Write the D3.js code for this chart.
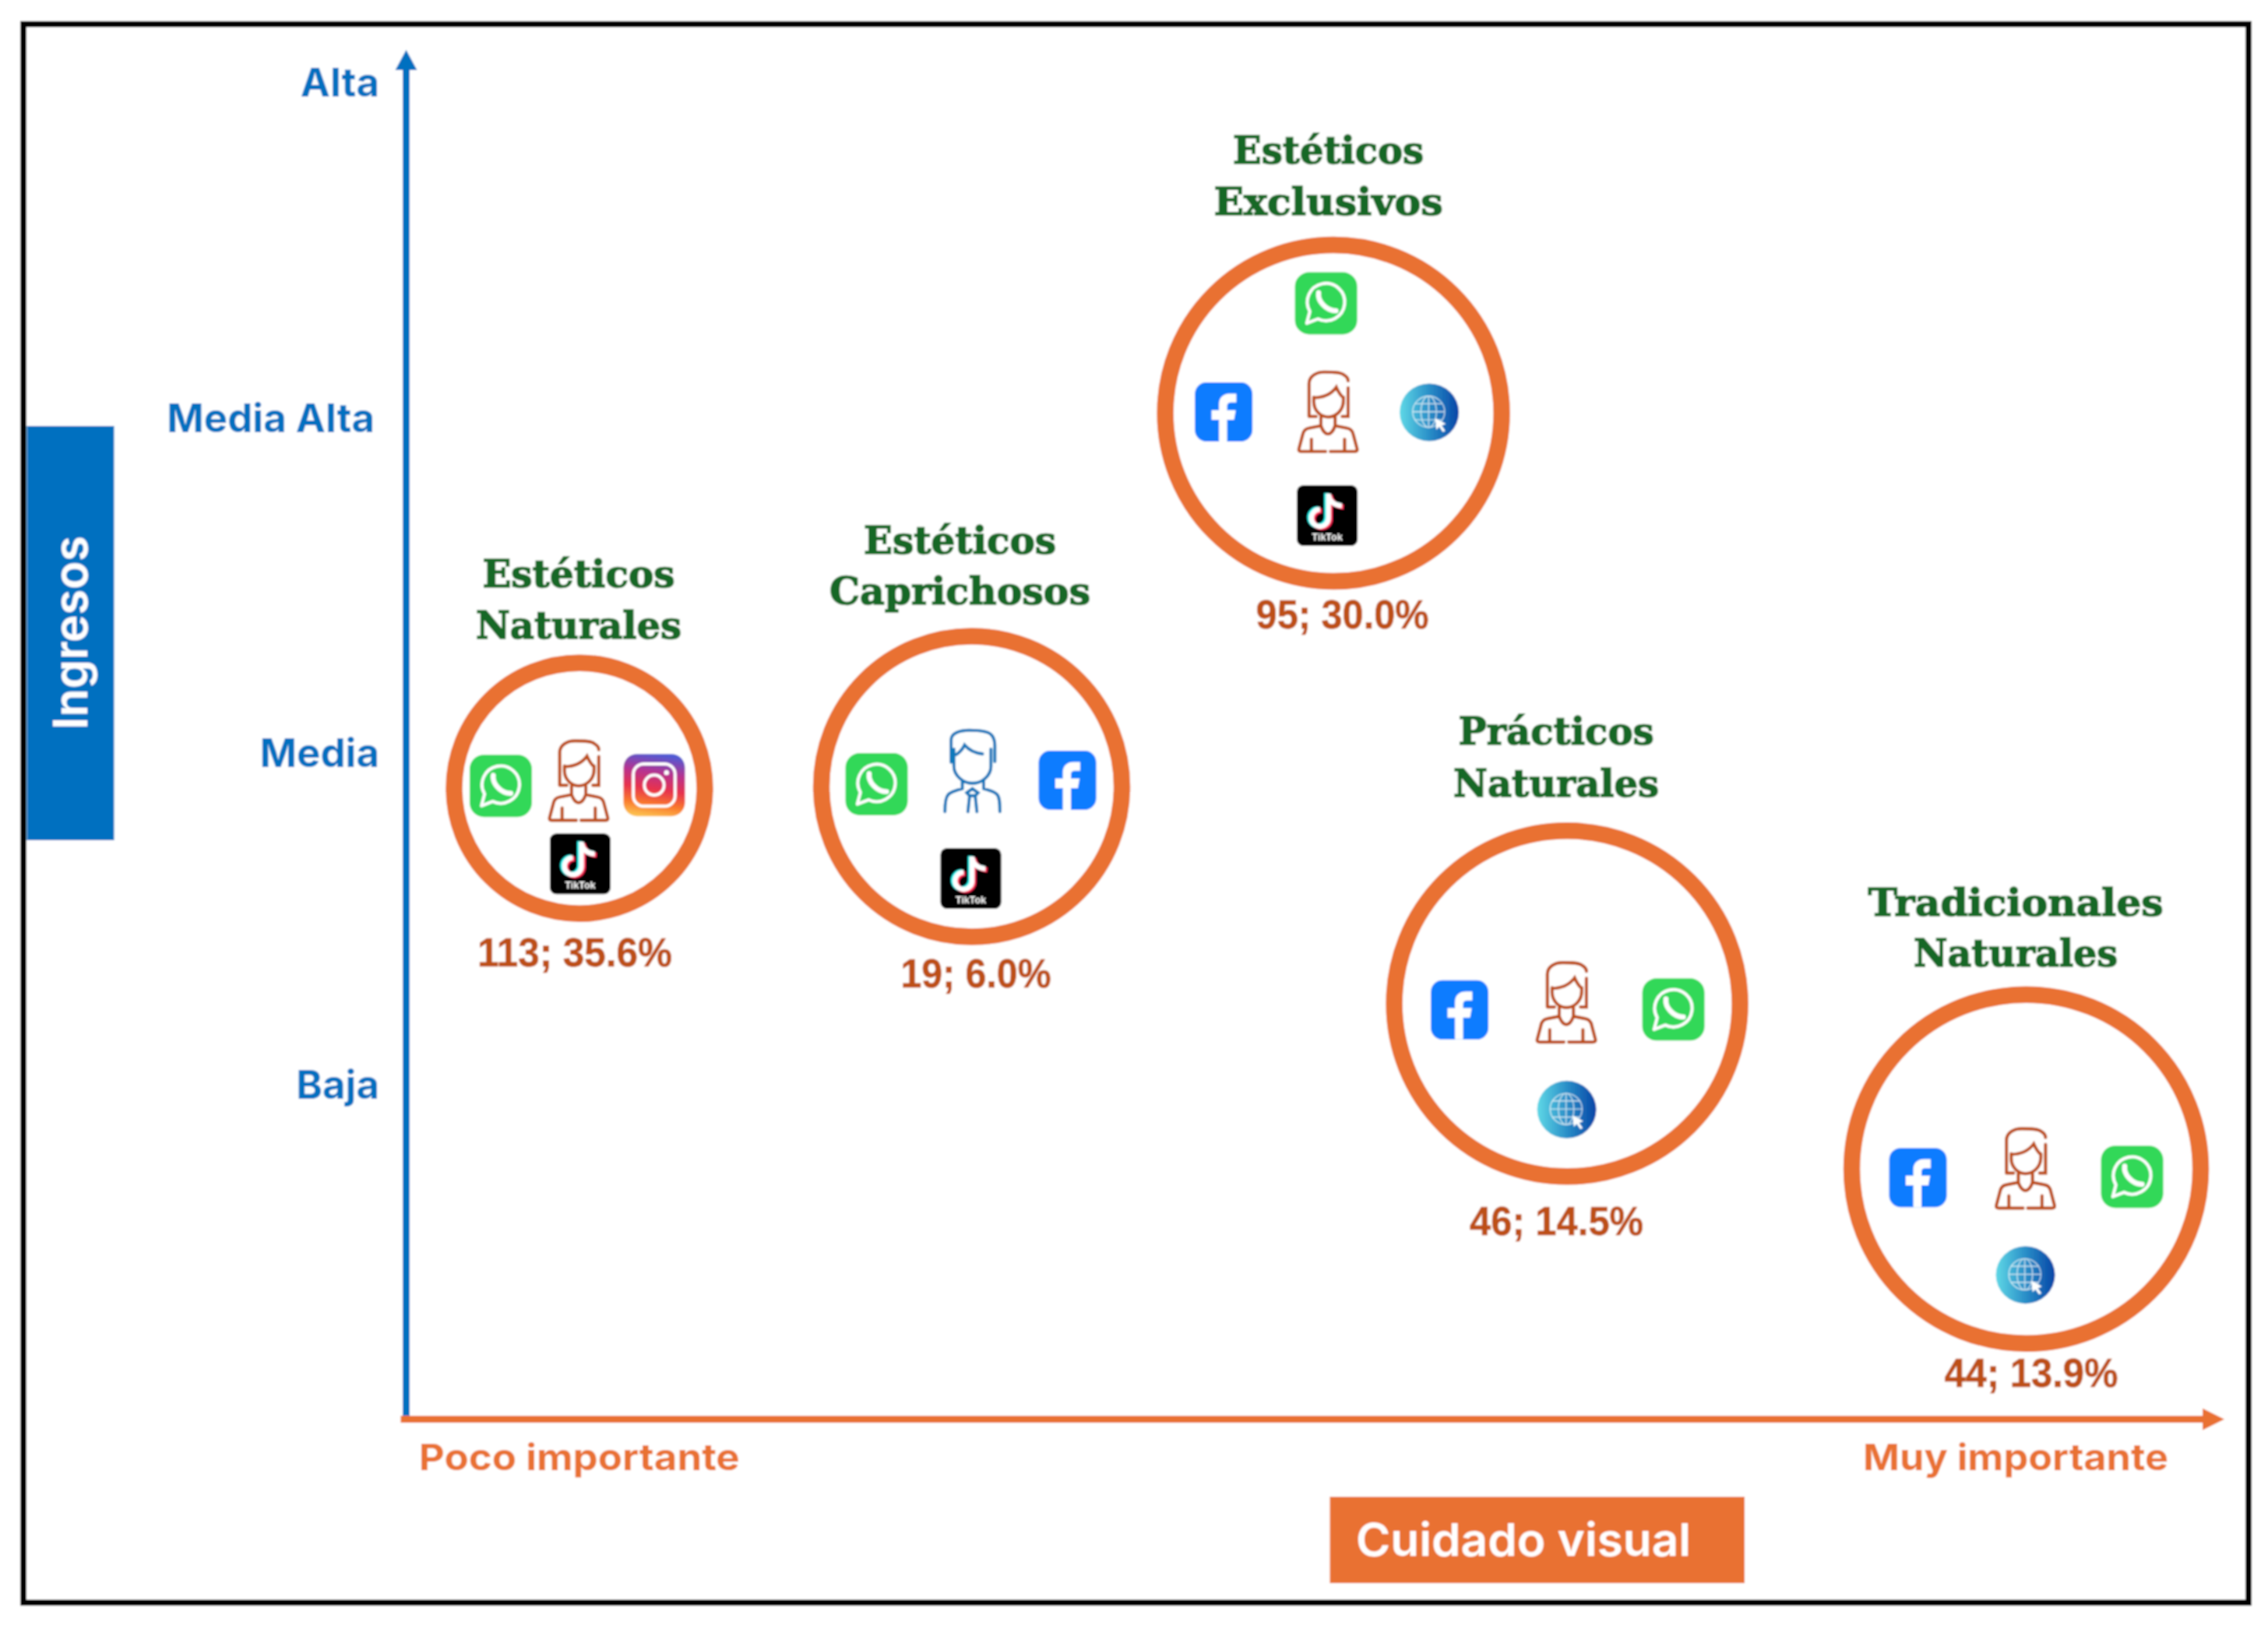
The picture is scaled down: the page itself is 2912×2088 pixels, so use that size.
<!DOCTYPE html>
<html>
<head>
<meta charset="utf-8">
<style>
  html, body { margin: 0; padding: 0; background: #fff; }
  svg { display: block; }
</style>
<script src="https://cdn.jsdelivr.net/npm/d3@7/dist/d3.min.js"></script>
</head>
<body>
<svg id="chart"></svg>
<script>
// values
const segments = [
  ["Estéticos", "Naturales"],
  ["Estéticos", "Caprichosos"],
  ["Estéticos", "Exclusivos"],
  ["Prácticos", "Naturales"],
  ["Tradicionales", "Naturales"]
];
const counts = [113, 19, 95, 46, 44];
const shares = ["35.6%", "6.0%", "30.0%", "14.5%", "13.9%"];
const cuidadoValues = [9.53, 31.1, 51.0, 63.85, 89.1];
const ingresosValues = [0.891, 0.896, 2.012, 0.247, -0.247];
const ingresosLevels = ["Baja", "Media", "Media Alta", "Alta"];
const cuidadoTicks = [9.5, 88.5];
const cuidadoLabels = ["Poco importante", "Muy importante"];
const segmentIcons = [
  ["whatsapp", "woman", "instagram", "tiktok"],
  ["whatsapp", "man", "facebook", "tiktok"],
  ["whatsapp", "facebook", "web", "woman", "tiktok"],
  ["facebook", "woman", "whatsapp", "web"],
  ["facebook", "woman", "whatsapp", "web"]
];

// layout, kept apart from the values
const width = 2912;
const height = 2088;
const blue = "#0070c0";
const orange = "#e97132";
const rust = "#bd4f14";
const green = "#196825";
const sans = "Inter, 'Open Sans', sans-serif";

const plotLeft = 521.5;
const plotRight = 2856;
const plotTop = 64;
const plotBottom = 1822.5;

const bubbleRadius = [161, 193, 216, 222, 224];
const nameOffsets = [[-1, -258, -192], [-15, -299, -234], [-6.5, -320.5, -254.5], [-14, -333, -266], [-13.5, -325, -260]];
const nameWidths = [[247, 264], [247, 335], [245, 294], [251, 264], [379, 262]];
const valueOffsets = [[-6, 229], [5.5, 258], [11.5, 276.5], [-13.5, 297], [6.5, 280]];
const valueWidths = [250, 193, 222, 223, 223];
const iconOffsets = [
  [[-101, -3], [-1, -9], [96, -4], [1, 97]],
  [[-122, -3], [1, -20], [123, -8], [-1, 118]],
  [[-9.5, -141], [-141, -1.5], [123, -1], [-7, -1], [-8, 131.5]],
  [[-138, 8], [-1, -1], [136.5, 7.5], [-0.5, 136]],
  [[-139, 11], [-1, 0], [136, 10], [-1, 136]]
];
const iconSizes = {
  whatsapp: [80, 80],
  facebook: [74, 76],
  tiktok: [78, 78],
  instagram: [79, 80],
  web: [76, 74],
  woman: [76, 105],
  man: [72, 106]
};
const levelLabelNudge = [[0, -4], [0, 0], [-6, 0], [0, -2]];

const svg = d3.select("#chart")
  .attr("width", width)
  .attr("height", height)
  .attr("viewBox", `0 0 ${width} ${height}`);

const x = d3.scaleLinear().domain([0, 100]).range([plotLeft, plotRight]);
const y = d3.scaleLinear().domain([0, 3]).range([1395, 106]);

const defs = svg.append("defs");

function addGradient(id, coords, stops) {
  const g = defs.append("linearGradient")
    .attr("id", id)
    .attr("x1", coords[0]).attr("y1", coords[1])
    .attr("x2", coords[2]).attr("y2", coords[3]);
  stops.forEach(s => g.append("stop").attr("offset", s[0]).attr("stop-color", s[1]));
}

addGradient("instaGrad", [0.55, 0, 0.4, 1], [
  [0, "#4f5bd5"], [0.3, "#b8328f"], [0.55, "#e6304f"], [0.8, "#f9792c"], [1, "#fdc04f"]
]);
addGradient("webGrad", [0, 0.5, 1, 0.5], [
  [0, "#5fd8e6"], [0.5, "#2a8fc8"], [1, "#0645a6"]
]);

svg.append("filter").attr("id", "soft")
  .append("feGaussianBlur").attr("stdDeviation", 0.8);

const root = svg.append("g").attr("filter", "url(#soft)");

root.append("rect")
  .attr("width", width).attr("height", height).attr("fill", "#fff");

root.append("rect")
  .attr("x", 30).attr("y", 31)
  .attr("width", 2857).attr("height", 2027)
  .attr("fill", "none")
  .attr("stroke", "#000")
  .attr("stroke-width", 8);

// side boxes
root.append("rect")
  .attr("x", 34.5).attr("y", 547)
  .attr("width", 112).attr("height", 532)
  .attr("fill", blue);

root.append("text")
  .attr("transform", "translate(112,937) rotate(-90)")
  .attr("font-family", sans)
  .attr("font-size", 60)
  .attr("font-weight", 600)
  .attr("fill", "#fff")
  .attr("textLength", 249)
  .attr("lengthAdjust", "spacingAndGlyphs")
  .text("Ingresos");

root.append("rect")
  .attr("x", 1707.5).attr("y", 1922)
  .attr("width", 532.5).attr("height", 111)
  .attr("fill", orange);

root.append("text")
  .attr("x", 1741).attr("y", 1998)
  .attr("font-family", sans)
  .attr("font-size", 58)
  .attr("font-weight", 600)
  .attr("fill", "#fff")
  .attr("textLength", 430)
  .attr("lengthAdjust", "spacingAndGlyphs")
  .text("Cuidado visual");

// axes
root.append("line")
  .attr("x1", plotLeft).attr("x2", plotLeft)
  .attr("y1", plotBottom + 4.5).attr("y2", plotTop + 24)
  .attr("stroke", blue).attr("stroke-width", 9);

root.append("path")
  .attr("d", d3.line()([[plotLeft, plotTop], [plotLeft + 14, plotTop + 26], [plotLeft - 14, plotTop + 26]]) + "Z")
  .attr("fill", blue);

root.append("line")
  .attr("x1", plotLeft - 7).attr("x2", plotRight - 26)
  .attr("y1", plotBottom).attr("y2", plotBottom)
  .attr("stroke", orange).attr("stroke-width", 9);

root.append("path")
  .attr("d", d3.line()([[plotRight, plotBottom], [plotRight - 28, plotBottom - 14], [plotRight - 28, plotBottom + 14]]) + "Z")
  .attr("fill", orange);

const yAxis = root.append("g")
  .attr("transform", "translate(487,0)")
  .call(d3.axisLeft(y)
    .tickValues([0, 1, 2, 3])
    .tickFormat(i => ingresosLevels[i])
    .tickSize(0)
    .tickPadding(0));

yAxis.select(".domain").remove();
yAxis.selectAll("text")
  .attr("font-family", sans)
  .attr("font-size", 51)
  .attr("font-weight", 700)
  .attr("fill", blue)
  .attr("dy", i => 19 + levelLabelNudge[i][1])
  .attr("dx", i => levelLabelNudge[i][0]);

const xAxis = root.append("g")
  .attr("transform", `translate(0,${plotBottom})`)
  .call(d3.axisBottom(x)
    .tickValues(cuidadoTicks)
    .tickFormat((d, i) => cuidadoLabels[i])
    .tickSize(0));

xAxis.select(".domain").remove();
xAxis.selectAll("text")
  .attr("y", 65.5)
  .attr("dy", 0)
  .attr("font-family", sans)
  .attr("font-size", 47)
  .attr("font-weight", 700)
  .attr("fill", orange)
  .attr("textLength", (d, i) => i === 0 ? 412 : 392)
  .attr("lengthAdjust", "spacingAndGlyphs");

// icons, each drawn inside a 100 x 100 box (people 100 x 140)
const iconDrawers = {
  whatsapp(g) {
    g.append("rect").attr("width", 100).attr("height", 100).attr("rx", 23).attr("fill", "#30d858");
    g.append("path")
      .attr("d", "M19 82 L24 63 A30 30 0 1 1 37 75 Z")
      .attr("fill", "none").attr("stroke", "#fff").attr("stroke-width", 5).attr("stroke-linejoin", "round");
    g.append("path")
      .attr("d", "M38 33 C36 46 50 62 66 62")
      .attr("fill", "none").attr("stroke", "#fff").attr("stroke-width", 8).attr("stroke-linecap", "round");
  },
  facebook(g) {
    g.append("rect").attr("width", 100).attr("height", 100).attr("rx", 20).attr("fill", "#0a7cff");
    g.append("path")
      .attr("d", "M42 100 V63 H29 V47 H42 V37 C42 25 50 19 61 19 H72 V34 H64 C58 34 56 36 56 41 V47 H71 L68 63 H56 V100 Z")
      .attr("fill", "#fff");
  },
  tiktok(g) {
    g.append("rect").attr("width", 100).attr("height", 100).attr("rx", 11).attr("fill", "#000");
    const note = "M52 14 V54 A14 14 0 1 1 38 40 M52 16 C54 27 62 33 74 34";
    [["#25f4ee", -3, -1], ["#fe2c55", 3, 2], ["#fff", 0, 0]].forEach(c => {
      g.append("path")
        .attr("d", note)
        .attr("transform", `translate(${c[1]},${c[2]})`)
        .attr("fill", "none").attr("stroke", c[0]).attr("stroke-width", 8);
    });
    g.append("text")
      .attr("x", 50).attr("y", 91)
      .attr("text-anchor", "middle")
      .attr("font-family", "'Liberation Sans', sans-serif")
      .attr("font-size", 16).attr("font-weight", 700)
      .attr("fill", "#fff")
      .text("TikTok");
  },
  instagram(g) {
    g.append("rect").attr("width", 100).attr("height", 100).attr("rx", 22).attr("fill", "url(#instaGrad)");
    g.append("rect").attr("x", 16).attr("y", 16).attr("width", 68).attr("height", 68).attr("rx", 17)
      .attr("fill", "none").attr("stroke", "#fff").attr("stroke-width", 5);
    g.append("circle").attr("cx", 50).attr("cy", 50).attr("r", 16)
      .attr("fill", "none").attr("stroke", "#fff").attr("stroke-width", 5);
    g.append("circle").attr("cx", 70).attr("cy", 30).attr("r", 4).attr("fill", "#fff");
  },
  web(g) {
    g.append("ellipse").attr("cx", 50).attr("cy", 50).attr("rx", 50).attr("ry", 50).attr("fill", "url(#webGrad)");
    const globe = g.append("g").attr("fill", "none").attr("stroke", "#fff").attr("stroke-width", 1.8).attr("opacity", 0.75);
    globe.append("circle").attr("cx", 49).attr("cy", 49).attr("r", 27);
    globe.append("ellipse").attr("cx", 49).attr("cy", 49).attr("rx", 13).attr("ry", 27);
    globe.append("path").attr("d", "M49 22 V76 M22 49 H76 M26 35 H72 M26 63 H72");
    g.append("path").attr("d", "M60 60 L78 70 L71 73 L77 82 L73 84 L67 75 L62 80 Z").attr("fill", "#fff");
  },
  woman(g) {
    const lines = [
      "M18 77 V21 C18 8 30 1 44 1 C58 1 72 1 77 6 C82 9 84 13 84 16 M84 28 V77 H74 M18 77 H30",
      "M26 44 V52 C26 66 37 78 50 78 C64 78 76 66 76 50 V44",
      "M26 45 C44 45 56 38 64 27 C67 34 71 41 76 45",
      "M38 78 V93 M62 78 V93",
      "M38 93 C41 102 46 107 50 107 C54 107 59 102 62 93",
      "M38 93 L18 97 C12 98 8 103 7 109 L1 132 C0 136 2 137 5 137 H46",
      "M62 93 L82 97 C88 98 92 103 93 109 L99 132 C100 136 98 137 95 137 H54",
      "M22 116 V137 M78 116 V137"
    ];
    g.append("path").attr("d", lines.join(" "))
      .attr("fill", "none").attr("stroke", rust).attr("stroke-width", 5.5).attr("stroke-linecap", "round");
  },
  man(g) {
    const lines = [
      "M12 55 V17 C12 6 28 1 44 1 C62 1 80 3 85 10 C89 15 90 20 90 27 V54",
      "M17 33 V62 C17 78 34 91 50 91 C67 91 83 78 83 62 V33",
      "M17 44 C24 42 32 34 36 26 C44 35 56 40 68 41",
      "M32 86 V100 M70 86 V100",
      "M32 100 C24 102 12 105 7 110 C3 114 1 122 1 139",
      "M70 100 C78 102 90 105 94 110 C98 114 99 122 99 139",
      "M40 107 L50 100 L60 107 L55 112 H45 Z",
      "M45 112 L42 139 M55 112 L58 139"
    ];
    g.append("path").attr("d", lines.join(" "))
      .attr("fill", "none").attr("stroke", "#0b78bb").attr("stroke-width", 5.5).attr("stroke-linecap", "round");
  }
};

function drawIcon(parent, name, cx, cy) {
  const [w, h] = iconSizes[name];
  const tall = name === "woman" || name === "man";
  const g = parent.append("g")
    .attr("class", `icon ${name}`)
    .attr("transform", `translate(${cx - w / 2},${cy - h / 2}) scale(${w / 100},${h / (tall ? 140 : 100)})`);
  iconDrawers[name](g);
}

// bubbles
segments.forEach((lines, i) => {
  const cx = x(cuidadoValues[i]);
  const cy = y(ingresosValues[i]);
  const group = root.append("g").attr("class", "segment");

  group.append("circle")
    .attr("cx", cx)
    .attr("cy", cy)
    .attr("r", bubbleRadius[i])
    .attr("fill", "#fff")
    .attr("stroke", orange)
    .attr("stroke-width", 21.5);

  lines.forEach((line, j) => {
    group.append("text")
      .attr("x", cx + nameOffsets[i][0])
      .attr("y", cy + nameOffsets[i][j + 1])
      .attr("text-anchor", "middle")
      .attr("font-family", "'DejaVu Serif', serif")
      .attr("font-size", 48)
      .attr("font-weight", 700)
      .attr("fill", green)
      .attr("stroke", green)
      .attr("stroke-width", 1.6)
      .attr("textLength", nameWidths[i][j])
      .attr("lengthAdjust", "spacingAndGlyphs")
      .text(line);
  });

  group.append("text")
    .attr("x", cx + valueOffsets[i][0])
    .attr("y", cy + valueOffsets[i][1])
    .attr("text-anchor", "middle")
    .attr("font-family", "'Liberation Sans', Arial, sans-serif")
    .attr("font-size", 52)
    .attr("font-weight", 700)
    .attr("fill", rust)
    .attr("stroke", rust)
    .attr("stroke-width", 0.6)
    .attr("textLength", valueWidths[i])
    .attr("lengthAdjust", "spacingAndGlyphs")
    .text(`${counts[i]}; ${shares[i]}`);

  segmentIcons[i].forEach((name, k) => {
    drawIcon(group, name, cx + iconOffsets[i][k][0], cy + iconOffsets[i][k][1]);
  });
});
</script>
</body>
</html>
